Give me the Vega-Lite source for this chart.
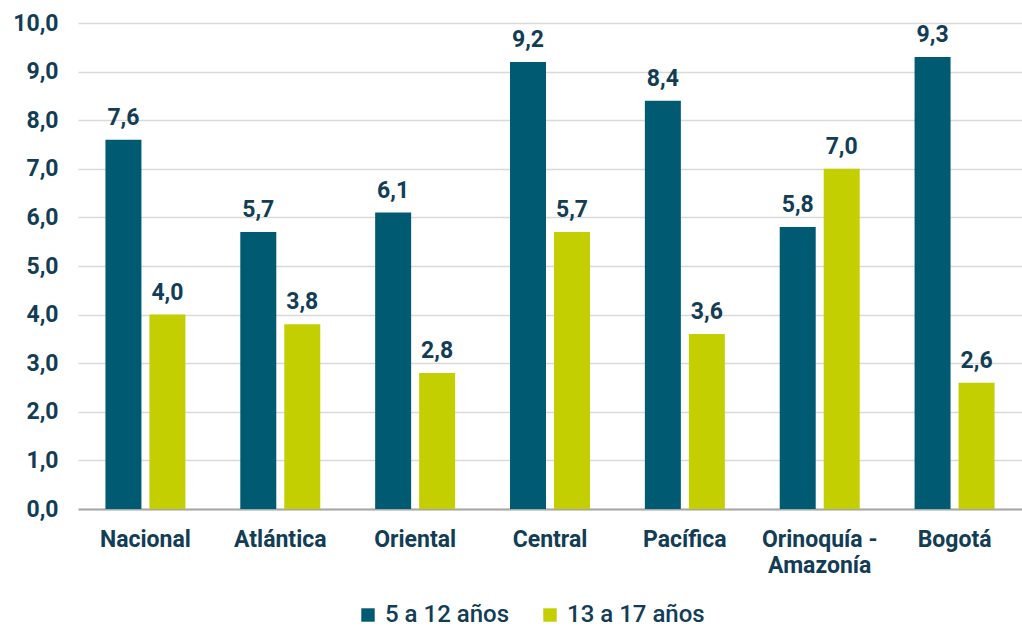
{
  "$schema": "https://vega.github.io/schema/vega-lite/v6.json",
  "width": 944,
  "height": 486,
  "autosize": {"type": "none"},
  "padding": {"left": 78, "top": 23, "right": 0, "bottom": 123},
  "background": "white",
  "config": {
    "font": "Roboto",
    "view": {"stroke": null},
    "locale": {"number": {"decimal": ",", "thousands": ".", "grouping": [3], "currency": ["$", ""]}}
  },
  "data": {
    "values": [
      {"region": "Nacional", "grupo": "5 a 12 años", "valor": 7.6},
      {"region": "Nacional", "grupo": "13 a 17 años", "valor": 4.0},
      {"region": "Atlántica", "grupo": "5 a 12 años", "valor": 5.7},
      {"region": "Atlántica", "grupo": "13 a 17 años", "valor": 3.8},
      {"region": "Oriental", "grupo": "5 a 12 años", "valor": 6.1},
      {"region": "Oriental", "grupo": "13 a 17 años", "valor": 2.8},
      {"region": "Central", "grupo": "5 a 12 años", "valor": 9.2},
      {"region": "Central", "grupo": "13 a 17 años", "valor": 5.7},
      {"region": "Pacífica", "grupo": "5 a 12 años", "valor": 8.4},
      {"region": "Pacífica", "grupo": "13 a 17 años", "valor": 3.6},
      {"region": "Orinoquía - Amazonía", "grupo": "5 a 12 años", "valor": 5.8},
      {"region": "Orinoquía - Amazonía", "grupo": "13 a 17 años", "valor": 7.0},
      {"region": "Bogotá", "grupo": "5 a 12 años", "valor": 9.3},
      {"region": "Bogotá", "grupo": "13 a 17 años", "valor": 2.6}
    ]
  },
  "encoding": {
    "x": {
      "field": "region",
      "type": "nominal",
      "sort": null,
      "scale": {"paddingInner": 0.407, "paddingOuter": 0.2035},
      "axis": {
        "title": null,
        "labelAngle": 0,
        "labelFont": "Roboto",
        "labelFontWeight": "bold",
        "labelFontSize": 23,
        "labelColor": "#123d55",
        "labelPadding": 19,
        "labelLineHeight": 26,
        "labelExpr": "datum.label == 'Orinoquía - Amazonía' ? ['Orinoquía -', 'Amazonía'] : datum.label",
        "ticks": false,
        "domainColor": "#a6a6a6",
        "domainWidth": 2,
        "grid": false
      }
    },
    "xOffset": {
      "field": "grupo",
      "type": "nominal",
      "sort": ["5 a 12 años", "13 a 17 años"],
      "scale": {"paddingInner": 0.182, "paddingOuter": 0}
    },
    "y": {
      "field": "valor",
      "type": "quantitative",
      "scale": {"domain": [0, 10]},
      "axis": {
        "title": null,
        "values": [0,1,2,3,4,5,6,7,8,9,10],
        "format": ".1f",
        "labelFont": "Roboto",
        "labelFontWeight": "bold",
        "labelFontSize": 23,
        "labelColor": "#123d55",
        "labelPadding": 20,
        "ticks": false,
        "domain": false,
        "gridColor": "#d9d9d9",
        "gridWidth": 1.5
      }
    }
  },
  "layer": [
    {
      "mark": {"type": "bar"},
      "encoding": {
        "color": {
          "field": "grupo",
          "type": "nominal",
          "sort": ["5 a 12 años", "13 a 17 años"],
          "scale": {"domain": ["5 a 12 años", "13 a 17 años"], "range": ["#005a72", "#c3cf00"]},
          "legend": {
            "title": null,
            "orient": "none",
            "legendX": 278,
            "legendY": 580,
            "direction": "horizontal",
            "symbolType": "square",
            "symbolSize": 180,
            "symbolStrokeWidth": 0,
            "labelFont": "Roboto",
            "labelFontSize": 24,
            "labelFontWeight": 500,
            "labelColor": "#123d55",
            "labelOffset": 5,
            "columnPadding": 28
          }
        }
      }
    },
    {
      "mark": {"type": "text", "baseline": "bottom", "dy": -10, "font": "Roboto", "fontWeight": "bold", "fontSize": 23, "color": "#123d55"},
      "encoding": {
        "text": {"field": "valor", "type": "quantitative", "format": ".1f"}
      }
    }
  ]
}
